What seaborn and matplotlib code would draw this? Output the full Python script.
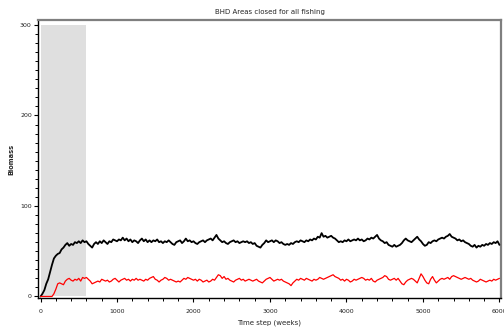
import numpy as np
import pandas as pd
import matplotlib
matplotlib.use("Agg")
import matplotlib.pyplot as plt
from matplotlib.ticker import MultipleLocator
import seaborn as sns

# Simulation output, sampled every 25 weeks (0 .. 6000)
weeks = np.arange(0, 6001, 25)

biomass_total = [
    0, 3, 7, 14, 19, 27, 35, 42, 45, 47, 48, 52, 54, 57, 59, 56, 58, 57, 60, 59, 61, 59, 62, 60,
    61, 58, 56, 54, 58, 60, 58, 61, 59, 62, 60, 58, 61, 60, 63, 62, 61, 63, 62, 65, 62, 64, 61, 63,
    60, 62, 61, 59, 62, 64, 61, 63, 60, 62, 60, 62, 61, 63, 60, 61, 59, 61, 60, 62, 60, 58, 57, 60,
    61, 62, 59, 61, 64, 61, 62, 60, 61, 59, 58, 60, 61, 62, 60, 62, 63, 64, 62, 65, 68, 64, 62, 60,
    61, 59, 58, 60, 61, 62, 60, 61, 59, 60, 61, 60, 61, 59, 60, 58, 59, 56, 55, 54, 57, 59, 62, 60,
    61, 62, 60, 62, 61, 59, 60, 58, 57, 58, 57, 59, 58, 60, 61, 60, 62, 61, 60, 62, 61, 63, 62, 64,
    63, 66, 65, 70, 66, 67, 65, 66, 67, 65, 64, 62, 60, 61, 60, 62, 61, 63, 61, 62, 63, 62, 64, 62,
    63, 61, 62, 64, 63, 65, 64, 66, 68, 64, 62, 61, 59, 60, 57, 56, 55, 57, 55, 56, 57, 59, 62, 64,
    62, 61, 60, 62, 64, 66, 63, 61, 58, 56, 57, 60, 59, 61, 62, 61, 63, 64, 65, 64, 66, 67, 69, 66,
    65, 64, 62, 63, 61, 62, 60, 59, 58, 56, 55, 57, 54, 56, 55, 57, 56, 58, 57, 59, 58, 60, 59, 61,
    57,
]

biomass_closed = [
    0, 0, 0, 0, 0, 0, 0, 3, 8, 14, 15, 14, 13, 17, 19, 20, 18, 17, 19, 18, 20, 17, 21, 20,
    21, 19, 17, 14, 15, 16, 17, 16, 19, 18, 17, 18, 16, 17, 19, 20, 18, 16, 18, 19, 20, 18, 19, 17,
    19, 18, 20, 18, 19, 18, 17, 19, 18, 20, 21, 22, 19, 18, 16, 18, 19, 21, 20, 18, 19, 18, 17, 16,
    17, 16, 18, 20, 19, 21, 20, 19, 18, 19, 17, 19, 18, 16, 17, 18, 16, 17, 19, 18, 21, 24, 23, 20,
    22, 19, 20, 18, 17, 16, 18, 19, 20, 18, 19, 17, 18, 19, 18, 17, 18, 19, 17, 16, 15, 17, 19, 20,
    21, 19, 17, 18, 19, 18, 19, 17, 16, 15, 14, 12, 15, 17, 19, 18, 20, 19, 18, 20, 19, 18, 17, 19,
    18, 19, 21, 20, 19, 20, 21, 22, 23, 24, 22, 21, 20, 18, 19, 17, 19, 18, 16, 17, 19, 18, 19, 20,
    21, 20, 18, 19, 18, 20, 17, 16, 18, 19, 20, 21, 23, 22, 19, 18, 19, 20, 18, 20, 17, 14, 13, 16,
    18, 19, 20, 19, 17, 15, 20, 25, 22, 18, 15, 14, 19, 22, 18, 15, 17, 19, 20, 19, 20, 21, 19, 22,
    23, 22, 21, 20, 19, 20, 21, 20, 19, 20, 18, 17, 16, 17, 19, 18, 17, 16, 17, 18, 17, 19, 18, 19,
    20,
]

# Closure period shaded on the plot (weeks) and its height
closure_start, closure_end = 0, 600
closure_top = 300

df = pd.DataFrame({"week": weeks, "total": biomass_total, "closed": biomass_closed})

sns.set_style("ticks")
plt.rcParams["font.family"] = ["DejaVu Sans"]

fig = plt.figure(figsize=(5.04, 3.29), dpi=100)
ax = fig.add_axes([0.0754, 0.0942, 0.9186, 0.8450])

ax.fill_between([closure_start, closure_end], 0, closure_top,
                color="#dfdfdf", linewidth=0, zorder=0)

sns.lineplot(data=df, x="week", y="total", ax=ax, color="black",
             linewidth=1.3, estimator=None, zorder=3)
sns.lineplot(data=df, x="week", y="closed", ax=ax, color="#ff0000",
             linewidth=0.9, estimator=None, zorder=3)

ax.set_xlim(-33, 6020)
ax.set_ylim(-1.7, 305.5)

ax.xaxis.set_major_locator(MultipleLocator(1000))
ax.xaxis.set_minor_locator(MultipleLocator(200))
ax.yaxis.set_major_locator(MultipleLocator(100))
ax.yaxis.set_minor_locator(MultipleLocator(10))

ax.tick_params(axis="both", which="both", bottom=True, left=True,
               top=False, right=False)
ax.tick_params(axis="both", which="major", direction="out", length=3,
               width=0.8, color="black", labelsize=4.5, labelcolor="#222222")
ax.tick_params(axis="both", which="minor", direction="out", length=2,
               width=0.7, color="black")
ax.tick_params(axis="x", which="major", pad=5)
ax.tick_params(axis="y", which="major", pad=1.5)

for side in ("left", "bottom"):
    ax.spines[side].set_visible(True)
    ax.spines[side].set_color("black")
    ax.spines[side].set_linewidth(1.0)
for side in ("top", "right"):
    ax.spines[side].set_visible(True)
    ax.spines[side].set_color("#7f7f7f")
    ax.spines[side].set_linewidth(1.6)

ax.set_title("BHD Areas closed for all fishing", fontsize=5, pad=4.5)
ax.set_xlabel("Time step (weeks)", fontsize=5, labelpad=4)
ax.set_ylabel("Biomass", fontsize=4.8, fontweight="bold", labelpad=4)

fig.savefig("out.png", dpi=100)
